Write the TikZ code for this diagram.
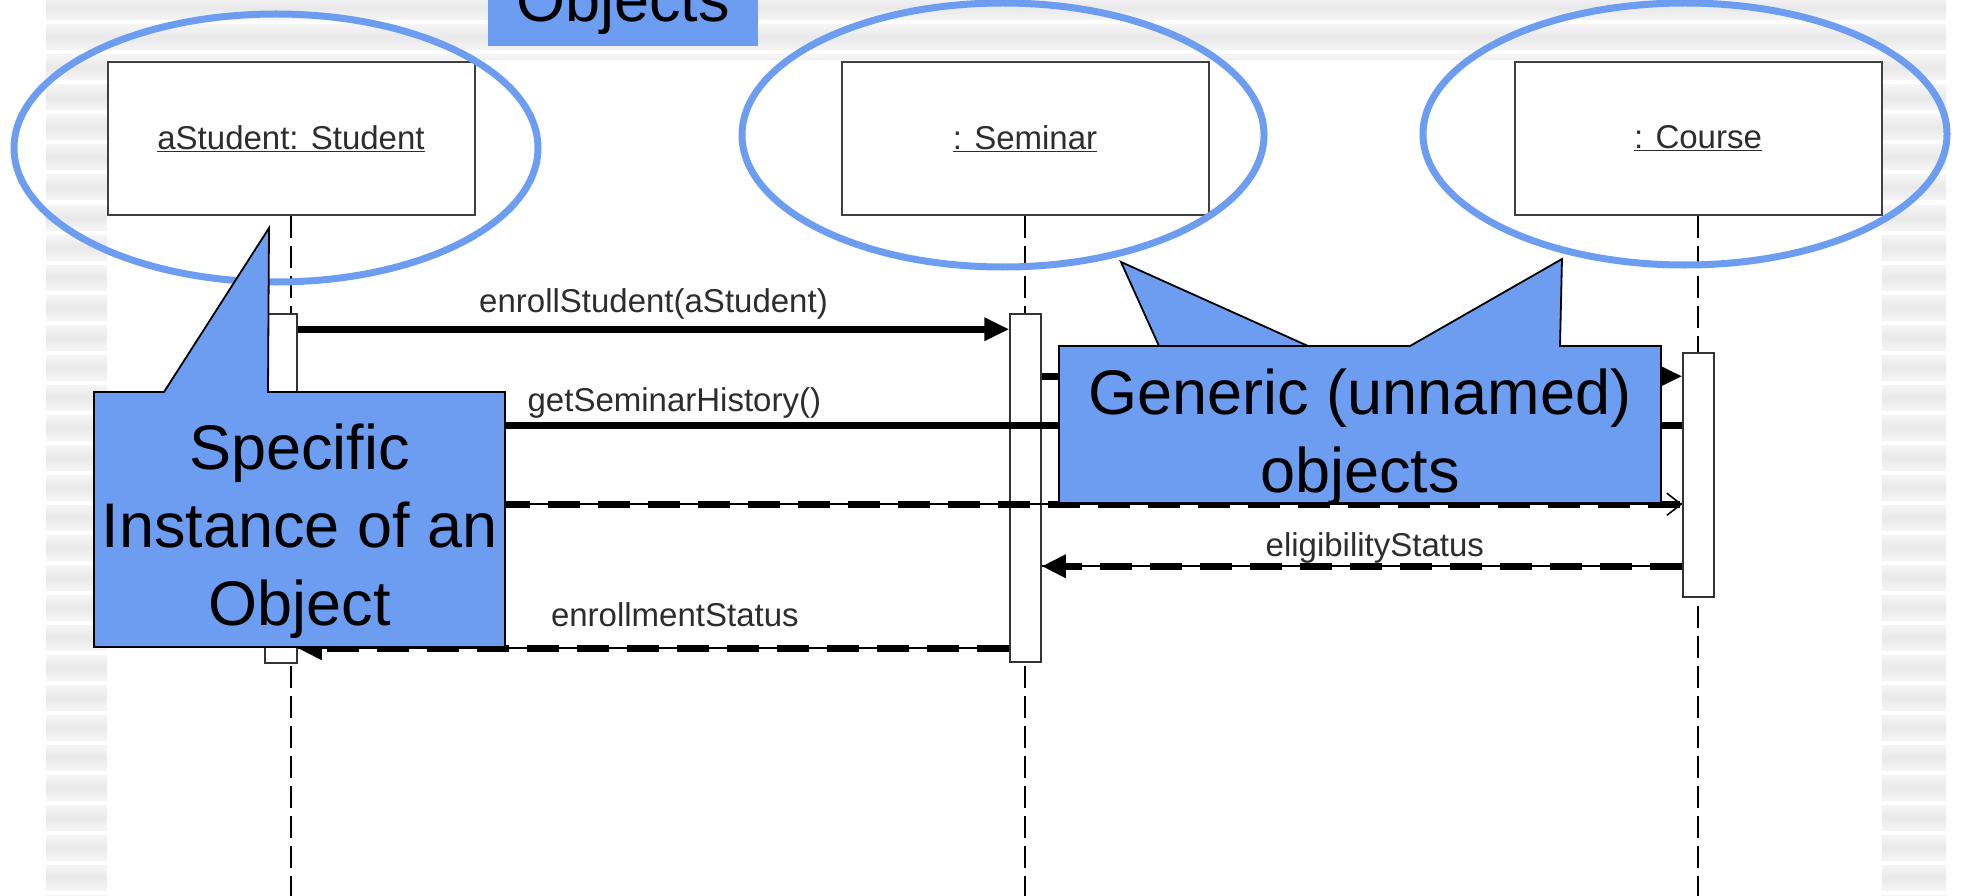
\documentclass[tikz,border=0pt]{standalone}
\usepackage{fontspec}
\setmainfont{Liberation Sans}
\usetikzlibrary{positioning, arrows.meta, shapes.geometric}

\definecolor{calloutblue}{RGB}{108,157,240}
\definecolor{labelgray}{RGB}{45,45,45}

\begin{document}
\begin{tikzpicture}[x=1pt, y=-1pt,
    objbox/.style={draw=black!75, line width=2pt, fill=white, minimum width=367pt, minimum height=153pt, inner sep=0pt, font=\fontsize{33}{40}\selectfont, text=labelgray},
    lifeline/.style={line width=1.6pt, dash pattern=on 22pt off 8pt},
    actbar/.style={draw=black!80, line width=1.5pt, fill=white, inner sep=0pt},
    call/.style={line width=6.5pt, -{Triangle[length=25pt, width=22pt]}},
    ret/.style={line width=6.5pt, dash pattern=on 32pt off 18pt, preaction={draw, solid, line width=1.6pt, arrows=-}},
    msglbl/.style={font=\fontsize{33}{40}\selectfont, text=labelgray, inner sep=0pt, anchor=base},
    ring/.style={draw=calloutblue, line width=7pt, ellipse, inner sep=0pt},
    callout/.style={fill=calloutblue, draw=black, line width=1.8pt},
    bigtext/.style={font=\fontsize{63}{78}\selectfont, align=center, inner sep=0pt}]

    \useasboundingbox (0,0) rectangle (1961,896);
    \clip (0,0) rectangle (1961,896);

    % slide background: striped frame, white sheet on top
    \fill[white] (0,0) rectangle (1961,896);
    \foreach \y in {-5,25,...,895}
        \shade[top color=black!4, bottom color=black!4, middle color=black!9] (46,\y) rectangle (1946,\y+25);
    \fill[white] (107,60) rectangle (1882,896);

    % objects and lifelines
    \node[objbox] (stu) at (291,138.5) {\underline{aStudent: Student}};
    \node[objbox, right=365pt of stu] (sem) {\underline{: Seminar}};
    \node[objbox, right=304pt of sem] (cou) {\underline{: Course}};
    \coordinate (bottom) at (0,896);
    \draw[lifeline] (stu.south) -- (stu.south |- bottom);
    \draw[lifeline] (sem.south) -- (sem.south |- bottom);
    \draw[lifeline] (cou.south) -- (cou.south |- bottom);

    % activations
    \node[actbar, minimum width=32pt, minimum height=349pt] (actStu) at (281,488.5) {};
    \node[actbar, minimum width=31pt, minimum height=348pt] (actSem) at (1025.5,488) {};
    \node[actbar, minimum width=31pt, minimum height=244pt] (actCou) at (1698.5,475) {};

    % messages
    \draw[call] ([yshift=-16pt]actStu.north east) -- node[msglbl, yshift=17pt] {enrollStudent(aStudent)} ([yshift=-16pt]actSem.north west);
    \draw[call] ([yshift=-63pt]actSem.north east) -- ([yshift=-24pt]actCou.north west);
    \draw[call] ([yshift=-73pt]actCou.north west) -- node[msglbl, pos=0.728, yshift=14pt] {getSeminarHistory()} ([yshift=-112pt]actStu.north east);
    \draw[ret, -{Straight Barb[length=14pt, width=22pt, line width=1.6pt]}] ([yshift=-191pt]actStu.north east) -- ([yshift=-152pt]actCou.north west);
    \draw[ret, -{Triangle[length=24pt, width=22pt]}] ([yshift=-214pt]actCou.north west) -- node[msglbl, pos=0.48, yshift=10pt] {eligibilityStatus} ([yshift=-253pt]actSem.north east);
    \draw[ret, -{Triangle[length=24pt, width=22pt]}] ([yshift=-335pt]actSem.north west) -- node[msglbl, pos=0.47, yshift=22pt] {enrollmentStatus} ([yshift=-335pt]actStu.north east);

    % highlight rings
    \node[ring, minimum width=524pt, minimum height=268pt] (ringStu) at (276,148) {};
    \node[ring, minimum width=522pt, minimum height=264pt] (ringSem) at (1003,135) {};
    \node[ring, minimum width=524pt, minimum height=262pt] (ringCou) at (1685,134) {};

    % callouts
    \filldraw[callout] (94,392) -- (164,392) -- (269,228) -- (268,392) -- (505,392) -- (505,647) -- (94,647) -- cycle;
    \node[bigtext] (specific) at (299.5,531) {Specific\\Instance of an\\Object};

    \filldraw[callout] (1159,346) -- (1121,262) -- (1308,346) -- cycle;
    \filldraw[callout] (1059,346) -- (1410,346) -- (1562,259) -- (1560,346) -- (1661,346) -- (1661,503) -- (1059,503) -- cycle;
    \node[bigtext] (generic) at (1360,437) {Generic (unnamed)\\objects};

    \node[fill=calloutblue, font=\fontsize{63}{78}\selectfont, anchor=base, inner sep=0pt, text height=90pt, text depth=24pt, minimum width=270pt] (objects) at (623,22) {Objects};
\end{tikzpicture}
\end{document}
